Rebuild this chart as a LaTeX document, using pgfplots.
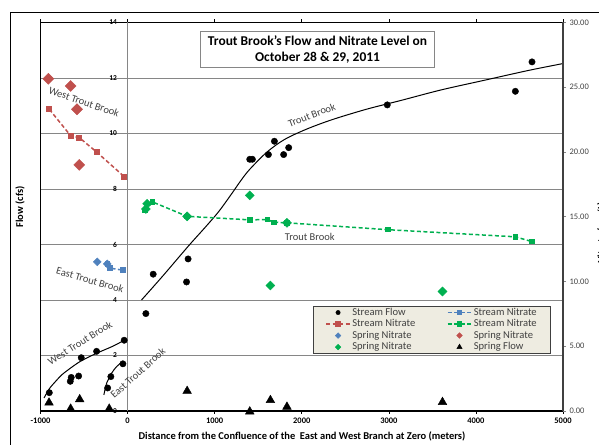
\documentclass[border=0pt]{standalone}
\usepackage{pgfplots}
\pgfplotsset{compat=1.18}
\usepackage{fontspec}
\setmainfont{Carlito}
\definecolor{exred}{HTML}{C0504D}
\definecolor{exblue}{HTML}{4F81BD}
\definecolor{exgreen}{HTML}{00B050}
\definecolor{legbg}{HTML}{EEECE1}
\definecolor{gridgray}{HTML}{868686}
\definecolor{txtgray}{HTML}{404040}
\begin{document}
\begin{tikzpicture}[x=1bp,y=1bp]
\useasboundingbox (0,0) rectangle (599,445);
\draw[line width=1.3bp] (10.5,-5) -- (10.5,432.3) -- (605,432.3);
\begin{axis}[
  at={(40.5bp,34bp)}, anchor=south west, scale only axis,
  width=522.5bp, height=388.5bp,
  xmin=-1000, xmax=5000, ymin=0, ymax=14,
  xtick={-1000,0,1000,2000,3000,4000,5000}, ytick={0,2,...,14},
  ymajorgrids, major grid style={gridgray, line width=0.8bp},
  axis line style={black, line width=1.3bp},
  tick align=outside, major tick length=3bp,
  xtick style={black, line width=0.6bp}, ytick style={draw=none},
  /pgf/number format/assume math mode=true,
  /pgf/number format/1000 sep={},
  x tick label style={font=\bfseries\fontsize{8.5}{9}\selectfont},
  y tick label style={font=\bfseries\fontsize{7.5}{9}\selectfont, xshift=83bp},
  extra x ticks={0}, extra x tick labels={},
  extra x tick style={grid=major, major grid style={gridgray, line width=0.8bp}},
  clip=false,
]
% trend lines
\addplot[black, line width=1bp, smooth] coordinates {
(-959,0.47) (-899,0.80) (-820,1.09) (-738,1.35) (-547,1.78) (-356,2.08) (-165,2.34) (-39,2.55)};
\addplot[black, line width=1bp, smooth] coordinates {
(-272,0.58) (-256,0.82) (-241,1.0) (-184,1.36) (-126,1.60) (-69,1.75)};
\addplot[black, line width=1bp, smooth] coordinates {
(160,4.0) (400,4.85) (700,5.95) (900,6.65) (1050,7.2) (1200,7.85) (1300,8.3) (1400,8.7) (1600,9.33) (1800,9.78) (2050,10.15) (2350,10.5) (2750,10.88) (3150,11.2) (3600,11.57) (4100,11.92) (4600,12.27) (5000,12.52)};
% stream flow
\addplot[only marks, mark=*, mark size=3.2bp, black] coordinates {
(-899,0.66) (-658,1.07) (-647,1.21) (-562,1.26) (-532,1.92) (-356,2.15) (-39,2.55)
(-229,0.83) (-192,1.24) (-54,1.70)
(210,3.51) (294,4.93) (677,4.65) (695,5.48) (1403,9.07) (1433,9.07) (1617,9.24) (1686,9.72) (1792,9.24) (1850,9.49) (2982,11.03) (4453,11.52) (4644,12.58)};
% spring flow
\addplot[only marks, mark=triangle*, mark size=5bp, black] coordinates {
(-902,0.30) (-654,0.08) (-550,0.42) (-211,0.08) (684,0.72) (1403,-0.02) (1640,0.39) (1830,0.15) (3616,0.32)};
\begin{scope}[every node/.style={text=txtgray, font=\fontsize{10.5}{11}\selectfont}]
\node[rotate=-19] at (axis cs:-500,11.14) {West Trout Brook};
\node[rotate=-16] at (axis cs:-431,4.72) {East Trout Brook};
\node[rotate=32] at (axis cs:-547,2.45) {West Trout Brook};
\node[rotate=42] at (axis cs:118,1.37) {East Trout Brook};
\node[rotate=21] at (axis cs:2115,10.67) {Trout Brook};
\node at (axis cs:2092,6.27) {Trout Brook};
\end{scope}
\end{axis}
\begin{axis}[
  at={(40.5bp,34bp)}, anchor=south west, scale only axis,
  width=522.5bp, height=388.5bp,
  xmin=-1000, xmax=5000, ymin=0, ymax=30,
  axis x line=none, axis y line*=right,
  y axis line style={txtgray, line width=1.3bp},
  ytick={0,5,...,30},
  tick align=outside, major tick length=3bp,
  ytick style={gridgray, line width=0.6bp},
  /pgf/number format/assume math mode=true,
  y tick label style={font=\fontsize{8.5}{9}\selectfont, text=txtgray,
    /pgf/number format/.cd, fixed, fixed zerofill, precision=2},
  clip=false,
  legend columns=2,
  legend cell align=left,
  legend image code/.code={\draw[mark repeat=2,mark phase=2,#1] plot coordinates {(0bp,0bp)(12bp,0bp)(24bp,0bp)};},
  legend style={at={(0.521,0.271)}, anchor=north west, fill=legbg, draw=txtgray, line width=1.2bp,
    font=\fontsize{10.6}{11}\selectfont, text=txtgray,
    inner xsep=12bp, inner ysep=0.5bp, row sep=0bp,
    nodes={inner ysep=1bp, inner xsep=1.5bp, text height=7.2bp, text depth=2.3bp},
    /tikz/every even column/.append style={column sep=30bp}},
]
\addlegendimage{only marks, mark=*, mark size=2.2bp, black, line width=0.4bp}
\addlegendentry{Stream Flow}
\addplot[exblue, line width=1.5bp, dash pattern=on 4bp off 2.5bp, mark=square*, mark size=2bp, mark options={solid}] coordinates {
(-230,11.36) (-203,11.03) (-50,10.87)};
\addlegendentry{Stream Nitrate}
\addplot[exred, line width=1.5bp, dash pattern=on 4bp off 2.5bp, mark=square*, mark size=2.2bp, mark options={solid}] coordinates {
(-899,23.3) (-654,21.26) (-553,21.1) (-356,20.0) (-39,18.1)};
\addlegendentry{Stream Nitrate}
\addplot[exgreen, line width=1.5bp, dash pattern=on 4bp off 2.5bp, mark=square*, mark size=2bp, mark options={solid}] coordinates {
(198,15.5) (287,16.14) (684,15.03) (1403,14.76) (1605,14.78) (1681,14.57) (1830,14.53) (2989,14.0) (4453,13.45) (4644,13.08)};
\addlegendentry{Stream Nitrate}
\addplot[only marks, exblue, mark=square*, mark size=2.8bp, mark options={rotate=45}, line width=0.4bp, legend image post style={mark size=2bp}] coordinates {
(-348,11.52) (-234,11.36)};
\addlegendentry{Spring Nitrate}
\addplot[only marks, exred, mark=square*, mark size=3.9bp, mark options={rotate=45}, line width=0.4bp, legend image post style={mark size=2bp}] coordinates {
(-910,25.65) (-654,25.1) (-581,23.3) (-555,19.0)};
\addlegendentry{Spring Nitrate}
\addplot[only marks, exgreen, mark=square*, mark size=3.2bp, mark options={rotate=45}, line width=0.4bp, legend image post style={mark size=2bp}] coordinates {
(210,15.6) (225,16.0) (684,15.03) (1403,16.65) (1640,9.69) (1830,14.53) (3616,9.23)};
\addlegendentry{Spring Nitrate}
\addlegendimage{only marks, mark=triangle*, mark size=3bp, black, line width=0.4bp}
\addlegendentry{Spring Flow}
\end{axis}
\node[draw=gridgray, line width=0.8bp, fill=white, align=center,
  font=\bfseries\fontsize{13.5}{16}\selectfont, minimum width=233.6bp, minimum height=35.6bp, inner sep=1bp]
  at (317.5,395.5) {Trout Brook's Flow and Nitrate Level on\\October 28 \& 29, 2011};
\node[rotate=90, font=\bfseries\fontsize{10.5}{11}\selectfont] at (20,238) {Flow (cfs)};
\node[font=\bfseries\fontsize{10.5}{11}\selectfont] at (302,9) {Distance from the Confluence of the\ \ East and West Branch at Zero (meters)};
\node[rotate=90, anchor=north, inner sep=0pt, font=\bfseries\fontsize{10.5}{11}\selectfont] at (597,212) {Nitrate (mg/L)};
\end{tikzpicture}
\end{document}
